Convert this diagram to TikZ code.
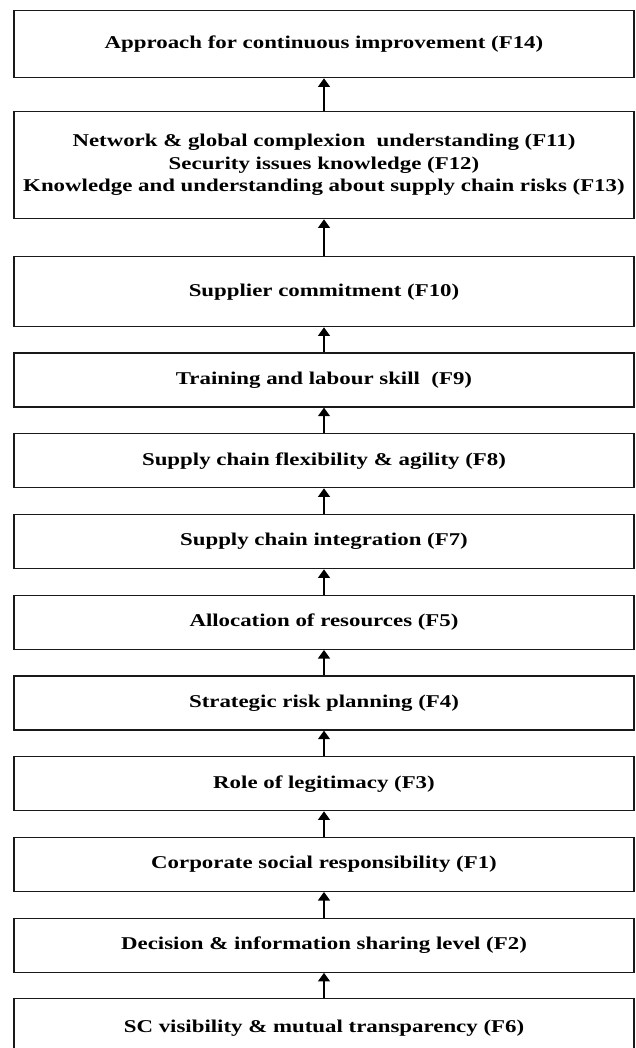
\documentclass[tikz,border=0pt]{standalone}
\usepackage{fontspec}
\setmainfont[FakeStretch=1.27]{Liberation Serif}
\usetikzlibrary{arrows.meta}
\begin{document}
\begin{tikzpicture}[x=0.75pt,y=-0.75pt,
  factor/.style={draw=black!90, line width=1pt, fill=white,
    minimum width=465pt, inner sep=0pt, align=center,
    font=\fontsize{13.5pt}{16.9pt}\selectfont\bfseries},
  conn/.style={-{Triangle[length=6.4pt,width=9pt]}, line width=0.9pt, draw=black}]
\useasboundingbox (0,0) rectangle (635,1048);
% factor boxes, top to bottom
\node[factor, minimum height=50.25pt] (f14) at (324,44.2) {Approach for continuous improvement (F14)};
\node[factor, minimum height=80.25pt] (f11) at (324,165.2) {Network \& global complexion\ \ understanding (F11)\\Security issues knowledge (F12)\\Knowledge and understanding about supply chain risks (F13)};
\node[factor, minimum height=52.5pt] (f10) at (324,291.7) {Supplier commitment (F10)};
\node[factor, minimum height=40.5pt] (f9) at (324,380) {Training and labour skill\ \ (F9)};
\node[factor, minimum height=40.5pt] (f8) at (324,460.7) {Supply chain flexibility \& agility (F8)};
\node[factor, minimum height=40.5pt] (f7) at (324,541.7) {Supply chain integration (F7)};
\node[factor, minimum height=40.5pt] (f5) at (324,622.3) {Allocation of resources (F5)};
\node[factor, minimum height=40.5pt] (f4) at (324,703) {Strategic risk planning (F4)};
\node[factor, minimum height=40.5pt] (f3) at (324,783.7) {Role of legitimacy (F3)};
\node[factor, minimum height=40.5pt] (f1) at (324,864.3) {Corporate social responsibility (F1)};
\node[factor, minimum height=40.5pt] (f2) at (324,945.2) {Decision \& information sharing level (F2)};
\node[factor, minimum height=45pt] (f6) at (324,1028.7) {\raisebox{3pt}{SC visibility \& mutual transparency (F6)}};
% upward links
\draw[conn] (f6.north) -- (f2.south);
\draw[conn] (f2.north) -- (f1.south);
\draw[conn] (f1.north) -- (f3.south);
\draw[conn] (f3.north) -- (f4.south);
\draw[conn] (f4.north) -- (f5.south);
\draw[conn] (f5.north) -- (f7.south);
\draw[conn] (f7.north) -- (f8.south);
\draw[conn] (f8.north) -- (f9.south);
\draw[conn] (f9.north) -- (f10.south);
\draw[conn] (f10.north) -- (f11.south);
\draw[conn] (f11.north) -- (f14.south);
\end{tikzpicture}
\end{document}
